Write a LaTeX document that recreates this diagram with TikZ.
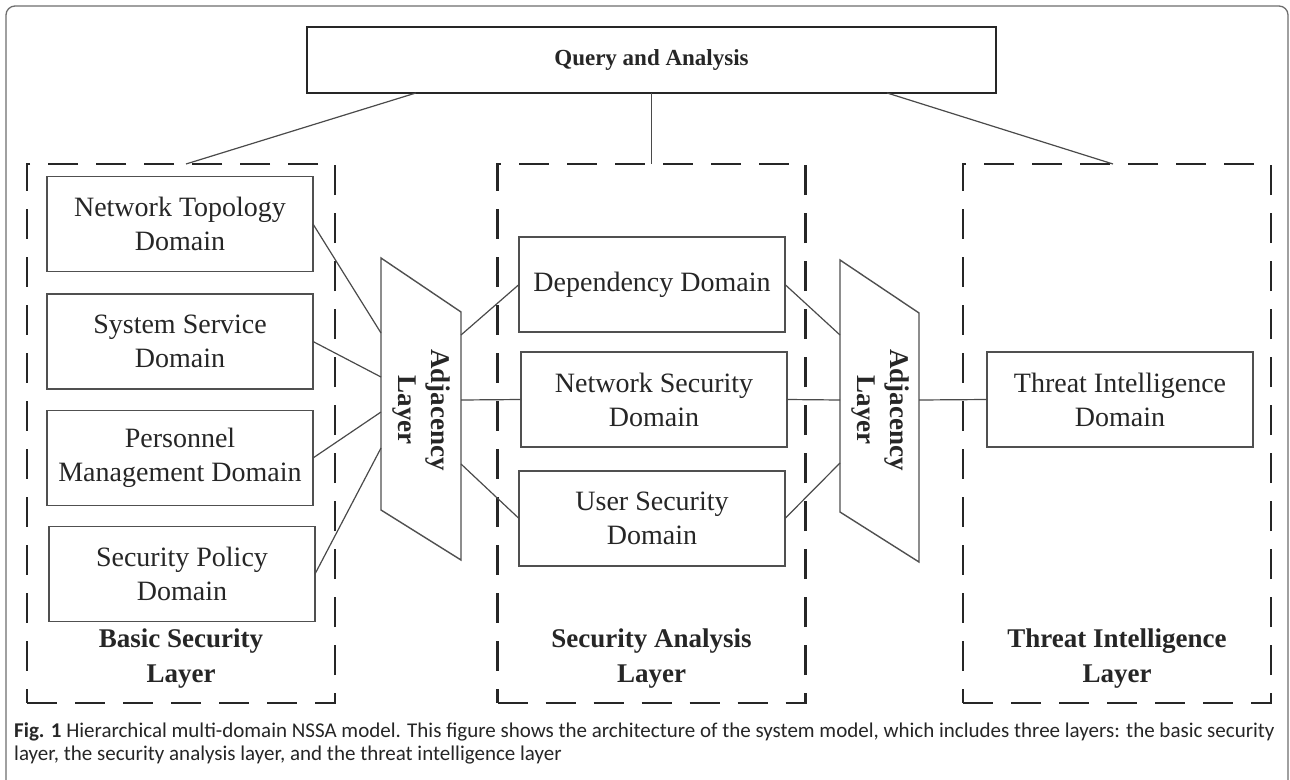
\documentclass[tikz,border=0pt]{standalone}
\usepackage{fontspec}
\setmainfont{Liberation Serif}
\newfontfamily\capfont{Carlito}
\usetikzlibrary{calc}

\definecolor{inkdark}{HTML}{262626}
\definecolor{boxline}{HTML}{505050}
\definecolor{wireline}{HTML}{4A4A4A}
\definecolor{framegray}{HTML}{6E6E6E}

\tikzset{
  domainbox/.style={draw=boxline, line width=1.4pt, inner sep=0pt, outer sep=0pt,
    minimum width=266pt, minimum height=95pt, align=center, text=inkdark,
    font=\fontsize{28}{34}\selectfont},
  topbox/.style={draw=inkdark, line width=2.2pt, inner sep=0pt, outer sep=0pt,
    minimum width=689pt, minimum height=66pt, text=inkdark,
    font=\bfseries\fontsize{23}{28}\selectfont},
  layerbox/.style={draw=inkdark, line width=2.4pt, dash pattern=on 30pt off 18pt,
    inner sep=0pt, outer sep=0pt, minimum width=308pt, minimum height=539pt},
  layerlabel/.style={align=center, text=inkdark, font=\bfseries\fontsize{27}{35}\selectfont},
  adjshape/.style={draw=boxline, line width=1.4pt, fill=white},
  adjlabel/.style={align=center, text=inkdark, rotate=-90, font=\bfseries\fontsize{27}{33}\selectfont},
  wire/.style={draw=wireline, line width=1.2pt},
  captext/.style={anchor=base west, inner sep=0pt, text=inkdark,
    font=\capfont\fontsize{21}{25}\selectfont},
}

\begin{document}
\begin{tikzpicture}[x=1pt, y=-1pt]
\useasboundingbox (0,0) rectangle (1290,779);
\fill[white] (0,0) rectangle (1290,779);
\clip (0,0) rectangle (1290,779);

% figure frame, open at the bottom
\draw[framegray, line width=1.3pt, rounded corners=9pt] (6,820) -- (6,6) -- (1288,6) -- (1288,820);

% top box
\node[topbox] (query) at (651.5,60) {Query and Analysis};

% the three layers
\node[layerbox] (basic)  at (181,433.5) {};
\node[layerbox] (anal)   at (651.5,433.5) {};
\node[layerbox] (threat) at (1117,433.5) {};

\node[layerlabel] (basiclbl)  at (181,659)   {Basic Security\\Layer};
\node[layerlabel] (anallbl)   at (651.5,659) {Security Analysis\\Layer};
\node[layerlabel] (threatlbl) at (1117,659)  {Threat Intelligence\\Layer};

% links from the top box down to each layer
\coordinate (qleft)  at ($(query.south west)!0.158!(query.south east)$);
\coordinate (qright) at ($(query.south east)!0.158!(query.south west)$);
\draw[wire] (qleft) -- ([xshift=5pt]basic.north);
\draw[wire] (query.south) -- (anal.north);
\draw[wire] (qright) -- ([xshift=-4pt]threat.north);

% basic security layer domains
\node[domainbox] (topo)  at (180,224)   {Network Topology\\Domain};
\node[domainbox] (serv)  at (180,341.5) {System Service\\Domain};
\node[domainbox] (pers)  at (180,458)   {Personnel\\Management Domain};
\node[domainbox] (pol)   at (182,574)   {Security Policy\\Domain};

% security analysis layer domains
\node[domainbox] (dep)   at (652,284.5) {Dependency Domain};
\node[domainbox] (netsec) at (654,399.5) {Network Security\\Domain};
\node[domainbox] (usr)   at (652,518.5) {User Security\\Domain};

% threat intelligence layer domain
\node[domainbox] (intel) at (1120,399.5) {Threat Intelligence\\Domain};

% adjacency layers (slanted quadrilaterals)
\coordinate (aTL) at (381,258); \coordinate (aTR) at (461,312);
\coordinate (aBR) at (461,560); \coordinate (aBL) at (381,510);
\draw[adjshape] (aTL) -- (aTR) -- (aBR) -- (aBL) -- cycle;
\node[adjlabel] (adjA) at (421,410) {Adjacency\\Layer};

\coordinate (bTL) at (840,260); \coordinate (bTR) at (919,313);
\coordinate (bBR) at (919,562); \coordinate (bBL) at (840,512);
\draw[adjshape] (bTL) -- (bTR) -- (bBR) -- (bBL) -- cycle;
\node[adjlabel] (adjB) at (880,410) {Adjacency\\Layer};

% attachment points on the adjacency layers
\coordinate (a1) at (381,333);
\coordinate (a2) at (381,377);
\coordinate (a3) at (381,412);
\coordinate (a4) at (381,448);
\coordinate (a5) at (461,335);
\coordinate (a6) at (461,400);
\coordinate (a7) at (461,464);
\coordinate (b1) at (840,335);
\coordinate (b2) at (840,400);
\coordinate (b3) at (840,463);
\coordinate (b4) at (919,400);

% connectors
\draw[wire] (topo.east) -- (a1);
\draw[wire] (serv.east) -- (a2);
\draw[wire] (pers.east) -- (a3);
\draw[wire] (pol.east)  -- (a4);
\draw[wire] (a5) -- (dep.west);
\draw[wire] (a6) -- (netsec.west);
\draw[wire] (a7) -- (usr.west);
\draw[wire] (dep.east) -- (b1);
\draw[wire] (netsec.east) -- (b2);
\draw[wire] (usr.east) -- (b3);
\draw[wire] (b4) -- (intel.west);

% caption
\node[captext] (cap1) at (14,737) {\textbf{Fig. 1} Hierarchical multi-domain NSSA model. This figure shows the architecture of the system model, which includes three layers: the basic security};
\node[captext] (cap2) at (14,760) {layer, the security analysis layer, and the threat intelligence layer};
\end{tikzpicture}
\end{document}
